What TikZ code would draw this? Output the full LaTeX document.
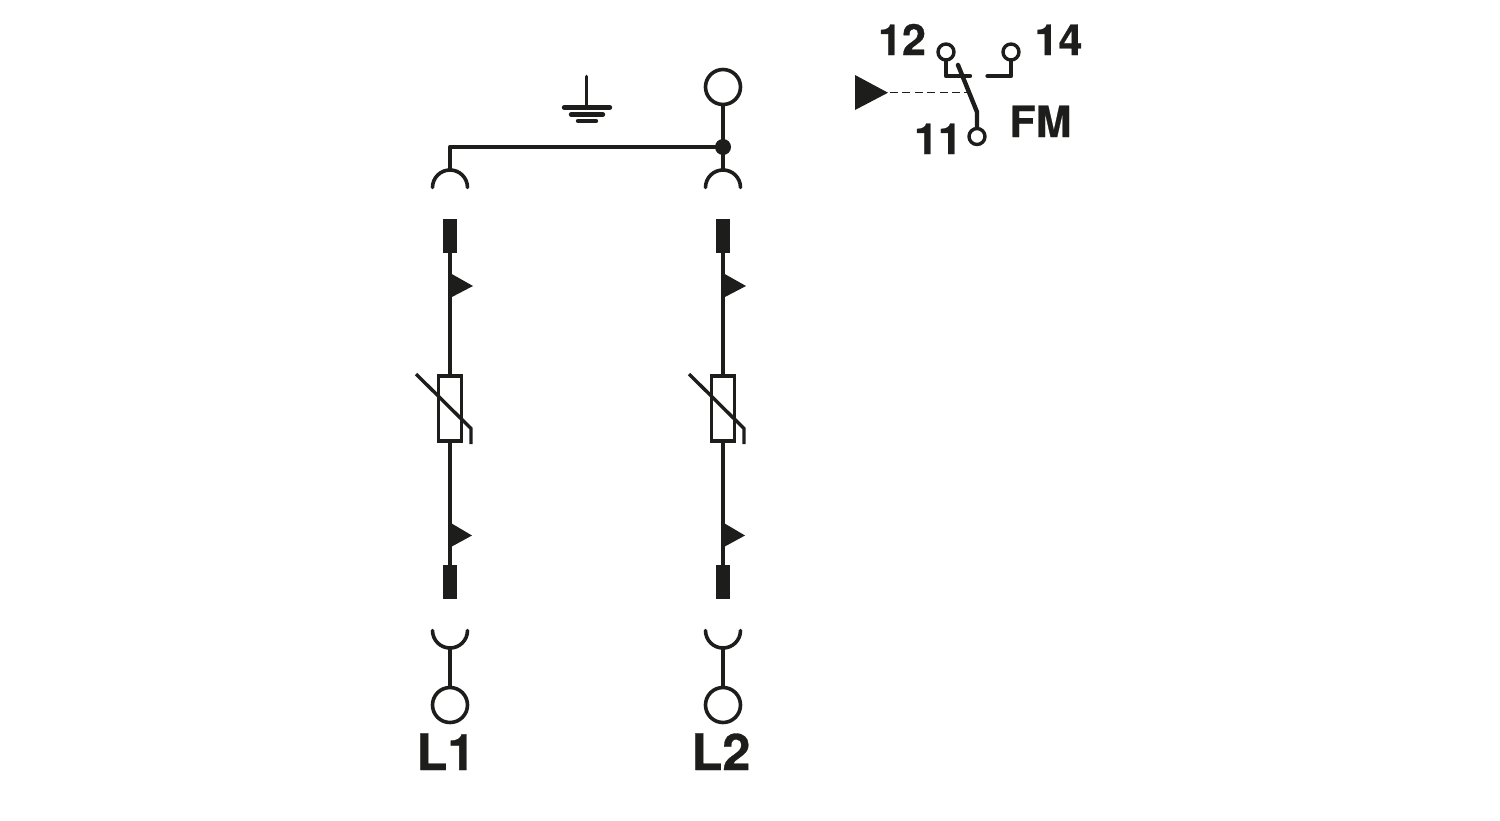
\documentclass[tikz,border=0pt]{standalone}
\usepackage{fontspec}
\setmainfont{TeX Gyre Heros}[BoldFeatures={FakeBold=0.6}]
\definecolor{ink}{HTML}{1D1D1B}
\tikzset{
  wire/.style={draw=ink,line width=2.2pt,line cap=round,line join=round},
  thin wire/.style={draw=ink,line width=1.8pt,line cap=round},
  term/.style={circle,draw=ink,line width=1.8pt,fill=white,inner sep=0pt,minimum size=17.5pt},
  smallterm/.style={circle,draw=ink,line width=1.7pt,fill=white,inner sep=0pt,minimum size=8pt},
  junction/.style={circle,fill=ink,inner sep=0pt,minimum size=8pt},
  block/.style={rectangle,fill=ink,inner sep=0pt,minimum width=6.6pt,minimum height=17pt},
  varistor/.style={rectangle,draw=ink,line width=1.6pt,fill=white,inner sep=0pt,minimum width=11.5pt,minimum height=32.5pt},
  big/.style={font=\fontsize{25.2}{25.2}\selectfont\bfseries,text=ink,inner sep=0pt,anchor=base},
  mid/.style={font=\fontsize{21.5}{21.5}\selectfont\bfseries,text=ink,inner sep=0pt,anchor=base},
  flag/.style={fill=ink,draw=none},
}
\begin{document}
\begin{tikzpicture}[x=0.5pt,y=-0.5pt]
\useasboundingbox (0,0) rectangle (1500,820);
% two identical branches
\foreach \n/\x in {a/450,b/723}{
  \coordinate (\n top) at (\x,169.5);
  \coordinate (\n bot) at (\x,648);
  \draw[thin wire] (\x-17.5,187.5) arc[start angle=180,end angle=360,radius=17.5];
  \draw[thin wire] (\x-17.5,630.5) arc[start angle=180,end angle=0,radius=17.5];
  \node[block] (\n up) at (\x,236) {};
  \node[block] (\n lo) at (\x,582) {};
  \node[varistor] (\n var) at (\x,408.5) {};
  \node[term] (\n term) at (\x,705) {};
  \draw[wire] (\n up) -- (\n var);
  \draw[wire] (\n var) -- (\n lo);
  \draw[wire] (\n bot) -- (\n term);
  \fill[flag] (\x,273) -- (\x+23,286) -- (\x,298) -- cycle;
  \fill[flag] (\x,522.5) -- (\x+22,535.5) -- (\x,547.5) -- cycle;
  \draw[draw=ink,line width=1.7pt,line join=miter] (\x-34,374) -- (\x+21,428.5) -- (\x+21,444);
}
\node[big] (l1) at (446,770) {L1};
\node[big] (l2) at (721,770) {L2};
% common connection
\node[term] (pe) at (723,87) {};
\node[junction] (j) at (723,147) {};
\coordinate (corner) at (450,147);
\draw[wire] (pe) -- (btop);
\draw[wire] (atop) -- (corner) -- (j);
% earth symbol
\coordinate (gnd) at (586.5,107.5);
\draw[thin wire] (586.5,76.5) -- (gnd);
\draw[wire] (564,107.5) -- (610,107.5);
\draw[wire] (571,114.5) -- (603,114.5);
\draw[wire] (578,121) -- (596,121);
% FM contact
\node[smallterm] (t12) at (946,52) {};
\node[smallterm] (t14) at (1011,52) {};
\node[smallterm] (t11) at (977,136.5) {};
\coordinate (c12) at (946,76);
\coordinate (e12) at (970,76);
\coordinate (c14) at (1011,76);
\coordinate (e14) at (987.5,76);
\coordinate (lever top) at (958,65);
\coordinate (lever knee) at (977,112);
\coordinate (act) at (968,92.7);
\draw[wire] (t12) -- (c12) -- (e12);
\draw[wire] (t14) -- (c14) -- (e14);
\draw[wire] (t11) -- (lever knee) -- (lever top);
\fill[flag] (855,75) -- (888,92.7) -- (855,110) -- cycle;
\coordinate (act start) at (890,92.7);
\draw[draw=ink,line width=0.65pt,dash pattern=on 4pt off 2.2pt] (act start) -- (act);
\node[mid] (n12) at (902,55) {12};
\node[mid] (n14) at (1058.5,55) {14};
\node[mid] (n11) at (938,154) {11};
\node[mid] (fm) at (1040.5,137) {FM};
\end{tikzpicture}
\end{document}
